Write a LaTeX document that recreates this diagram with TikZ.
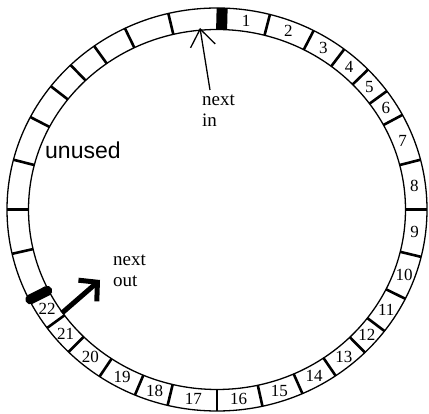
\documentclass[tikz,border=0pt]{standalone}
\usepackage{fontspec}
\setmainfont{Liberation Serif}
\newfontfamily\sansf{Liberation Sans}
\usetikzlibrary{arrows.meta}
\begin{document}
\begin{tikzpicture}[x=1pt,y=1pt,
  ring/.style={line width=1.3pt},
  tick/.style={line width=2.6pt},
  num/.style={font=\fontsize{17}{17}\selectfont, inner sep=0pt},
  lab/.style={font=\fontsize{19}{21}\selectfont, align=left, inner sep=0pt},
]
\useasboundingbox (0,0) rectangle (429,413);
\coordinate (c) at (217,203.5);
\draw[ring] (c) ellipse [x radius=210, y radius=201.5];
\draw[ring] (c) ellipse [x radius=188.5, y radius=180];
% slot boundaries
\foreach \a in {75.4,62.6,52.7,44,36,28,14.3,0,-13.6,-26.3,-37.1,-45.2,-55.6,-66,-77.5,-90,-103.6,-113,-124,-135,-144,-167.3,180,165.7,152.7,142.3,134.2,125.8,116,103.4}
  \draw[tick] ({217+188.5*cos(\a)},{203.5+180*sin(\a)}) -- ({217+210*cos(\a)},{203.5+201.5*sin(\a)});
% filled block at top
\draw[line width=11pt] ({217+188.5*cos(88.6)},{203.5+180*sin(88.6)}) -- ({217+210*cos(88.6)},{203.5+201.5*sin(88.6)});
% next-out pointer bar
\draw[line width=10pt, line cap=round] ({217+190*cos(-153.3)},{203.5+181*sin(-153.3)}) -- ({217+209*cos(-153.3)},{203.5+200*sin(-153.3)});
% slot numbers
\foreach \n/\a in {1/81.6,2/69,3/57.65,4/48.35,5/40,6/32,7/21.15,8/7.15,9/-6.8,10/-19.95,11/-31.7,12/-41.15,13/-50.4,14/-60.8,15/-71.75,16/-83.75,17/-96.8,18/-108.3,19/-118.5,20/-129.5,21/-139.5,22/-148.65}
  \node[num] (n\n) at ({217+199*cos(\a)},{203.5+191*sin(\a)}) {\n};
% labels
\node[font=\sansf\fontsize{23}{23}\selectfont, inner sep=0pt, anchor=base west] (unused) at (45,254) {unused};
\node[lab, anchor=north west] (nin) at (202,318) {next\\in};
\node[lab, anchor=north west] (nout) at (113,158) {next\\out};
% arrows
\coordinate (inbase) at (210,323);
\coordinate (intip) at (200,385);
\draw[line width=1.3pt, -{Straight Barb[length=17pt,width=25pt]}] (inbase) -- (intip);
\coordinate (outbase) at (62,100);
\coordinate (outtip) at (100,133);
\draw[line width=5pt, -{Straight Barb[length=13pt,width=28pt]}] (outbase) -- (outtip);
\end{tikzpicture}
\end{document}
